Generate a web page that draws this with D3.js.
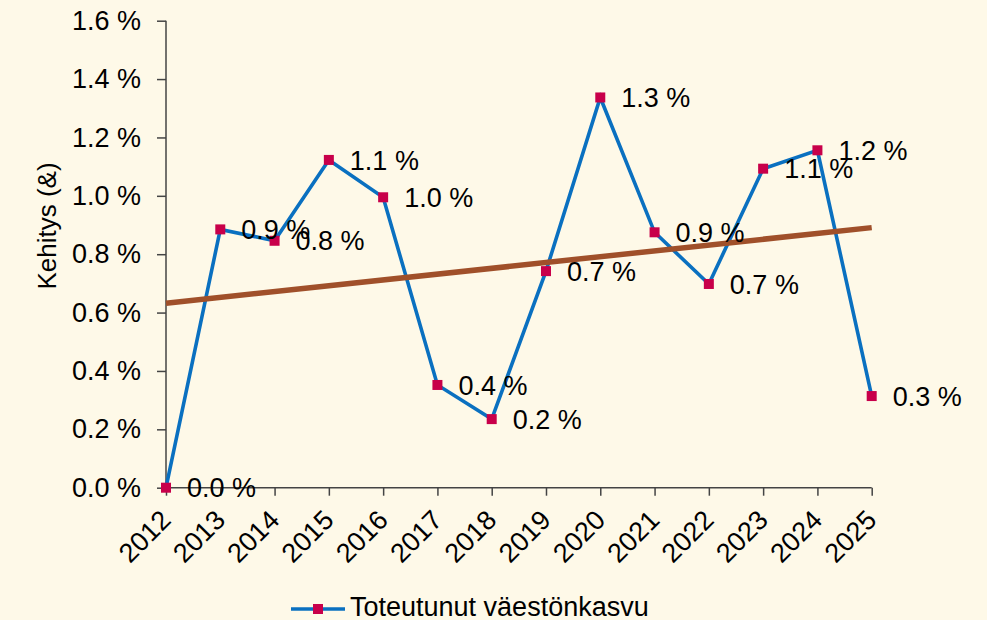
<!DOCTYPE html>
<html>
<head>
<meta charset="utf-8">
<script src="https://cdn.jsdelivr.net/npm/d3@7"></script>
<style>
    body { margin: 0; background: #fef9e8; }
    svg { display: block; font-family: "Liberation Sans", Arial, sans-serif; }
    .axis path, .axis line { stroke: #444; stroke-width: 1.5px; }
    .axis text { fill: #000; font-size: 27px; }
</style>
</head>
<body>
<svg class="chart" width="987" height="620"></svg>
<script>
(function () {
    // years and realised population growth (%)
    var years = ["2012", "2013", "2014", "2015", "2016", "2017", "2018",
        "2019", "2020", "2021", "2022", "2023", "2024", "2025"];
    var growth = [0.0, 0.885, 0.846, 1.123, 0.995, 0.352, 0.235,
        0.742, 1.337, 0.875, 0.698, 1.093, 1.156, 0.314];
    // linear trend, start and end values
    var trendYears = ["2012", "2025"];
    var trendValues = [0.632, 0.891];
    var yTicks = [0, 0.2, 0.4, 0.6, 0.8, 1.0, 1.2, 1.4, 1.6];
    var seriesName = "Toteutunut väestönkasvu";
    var yTitle = "Kehitys (&)";

    var data = years.map(function (d, i) {
        return { year: d, value: growth[i] };
    });
    var trend = trendYears.map(function (d, i) {
        return { year: d, value: trendValues[i] };
    });

    var svg = d3.select(".chart");

    var x = d3.scalePoint()
        .domain(years)
        .range([166, 871.7]);

    var y = d3.scaleLinear()
        .domain([0, 1.6])
        .range([487.7, 20.7]);

    var fmt = function (d) { return d.toFixed(1) + " %"; };

    //y axis
    var gy = svg.append("g")
        .attr("class", "axis")
        .attr("transform", "translate(166,0)")
        .call(d3.axisLeft(y).tickValues(yTicks).tickFormat(fmt).tickSize(9).tickPadding(16));
    gy.select(".domain").attr("d", "M0," + y(1.6) + "V" + y(0));

    //x axis
    var gx = svg.append("g")
        .attr("class", "axis")
        .attr("transform", "translate(0," + y(0) + ")")
        .call(d3.axisBottom(x).tickSize(8));
    gx.select(".domain").attr("d", "M" + x("2012") + ",0H" + x("2025"));
    gx.selectAll("text")
        .attr("text-anchor", "end")
        .attr("dy", 0)
        .attr("y", 0)
        .attr("transform", "translate(6,34) rotate(-45)");

    svg.append("text")
        .attr("transform", "translate(56,226) rotate(-90)")
        .attr("text-anchor", "middle")
        .style("font-size", "26px")
        .text(yTitle);

    var line = d3.line()
        .x(function (d) { return x(d.year); })
        .y(function (d) { return y(d.value); });

    svg.append("path")
        .datum(data)
        .attr("d", line)
        .attr("fill", "none")
        .attr("stroke", "#0a70c0")
        .attr("stroke-width", 3.6);

    svg.append("path")
        .datum(trend)
        .attr("d", line)
        .attr("fill", "none")
        .attr("stroke", "#a0502a")
        .attr("stroke-width", 5.5);

    svg.selectAll(".marker")
        .data(data)
        .enter()
        .append("rect")
        .attr("class", "marker")
        .attr("x", function (d) { return x(d.year) - 5; })
        .attr("y", function (d) { return y(d.value) - 5; })
        .attr("width", 10)
        .attr("height", 10)
        .attr("fill", "#c8004a");

    svg.selectAll(".annotation")
        .data(data)
        .enter()
        .append("text")
        .attr("class", "annotation")
        .attr("x", function (d) { return x(d.year) + 21; })
        .attr("y", function (d) { return y(d.value); })
        .attr("dy", "0.36em")
        .style("font-size", "27px")
        .text(function (d) { return fmt(d.value); });

    //legend
    var lg = svg.append("g").attr("transform", "translate(291,609)");
    lg.append("line")
        .attr("x1", 0).attr("x2", 54)
        .attr("stroke", "#0a70c0")
        .attr("stroke-width", 3.6);
    lg.append("rect")
        .attr("x", 22).attr("y", -5)
        .attr("width", 10).attr("height", 10)
        .attr("fill", "#c8004a");
    lg.append("text")
        .attr("x", 59)
        .attr("y", 7)
        .style("font-size", "27px")
        .text(seriesName);
})();
</script>
</body>
</html>
